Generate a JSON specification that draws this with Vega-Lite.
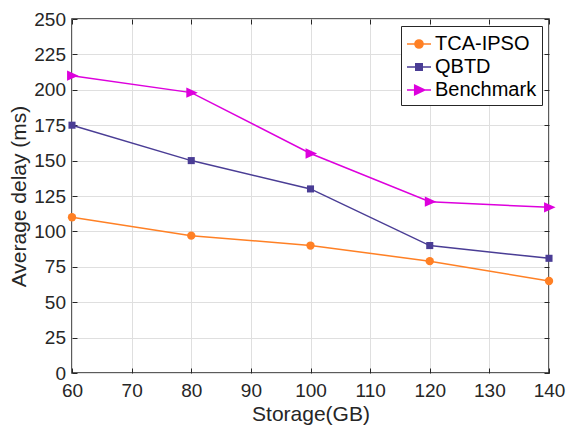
{
  "$schema": "https://vega.github.io/schema/vega-lite/v6.json",
  "width": 477,
  "height": 354,
  "autosize": "none",
  "padding": {"left": 72, "top": 19, "right": 21, "bottom": 56},
  "background": "white",
  "config": {
    "font": "Liberation Sans",
    "view": {"stroke": "#262626", "strokeWidth": 1.5},
    "axis": {
      "domain": false,
      "tickColor": "#262626",
      "tickWidth": 1,
      "tickSize": -5,
      "labelColor": "#262626",
      "labelFont": "Liberation Sans",
      "labelFontSize": 19,
      "labelFlush": false,
      "labelOverlap": false,
      "titleColor": "#262626",
      "titleFont": "Liberation Sans",
      "titleFontSize": 21,
      "titleFontWeight": "normal",
      "gridColor": "#DFDFDF",
      "gridWidth": 1
    },
    "legend": {
      "title": null,
      "orient": "top-right",
      "offset": 7,
      "padding": 5,
      "strokeColor": "#262626",
      "fillColor": "white",
      "labelFontSize": 20,
      "labelColor": "#000000",
      "labelFont": "Liberation Sans",
      "labelOffset": 3,
      "rowPadding": 0,
      "symbolSize": 576,
      "symbolStrokeWidth": 1.5
    }
  },
  "data": {
    "values": [
      {"storage": 60, "delay": 110, "series": "TCA-IPSO"},
      {"storage": 80, "delay": 97, "series": "TCA-IPSO"},
      {"storage": 100, "delay": 90, "series": "TCA-IPSO"},
      {"storage": 120, "delay": 79, "series": "TCA-IPSO"},
      {"storage": 140, "delay": 65, "series": "TCA-IPSO"},
      {"storage": 60, "delay": 175, "series": "QBTD"},
      {"storage": 80, "delay": 150, "series": "QBTD"},
      {"storage": 100, "delay": 130, "series": "QBTD"},
      {"storage": 120, "delay": 90, "series": "QBTD"},
      {"storage": 140, "delay": 81, "series": "QBTD"},
      {"storage": 60, "delay": 210, "series": "Benchmark"},
      {"storage": 80, "delay": 198, "series": "Benchmark"},
      {"storage": 100, "delay": 155, "series": "Benchmark"},
      {"storage": 120, "delay": 121, "series": "Benchmark"},
      {"storage": 140, "delay": 117, "series": "Benchmark"}
    ]
  },
  "resolve": {"axis": {"x": "independent", "y": "independent"}},
  "layer": [
    {
      "description": "Legend key: line segment with its marker for each series; no rows pass the filter, so it draws nothing in the plot.",
      "transform": [{"filter": "datum.storage < 0"}],
      "mark": {"type": "point", "filled": true, "opacity": 1, "strokeWidth": 1.5},
      "encoding": {
        "x": {"field": "storage", "type": "quantitative", "axis": null},
        "y": {"field": "delay", "type": "quantitative", "axis": null},
        "color": {
          "field": "series", "type": "nominal",
          "scale": {"domain": ["TCA-IPSO", "QBTD", "Benchmark"], "range": ["#FF8025", "#4A3D95", "#DD00DD"]}
        },
        "stroke": {
          "field": "series", "type": "nominal",
          "scale": {"domain": ["TCA-IPSO", "QBTD", "Benchmark"], "range": ["#FF8025", "#4A3D95", "#DD00DD"]}
        },
        "shape": {
          "field": "series", "type": "nominal",
          "scale": {
            "domain": ["TCA-IPSO", "QBTD", "Benchmark"],
            "range": [
              "M-1,0H1M0.34,0A0.34,0.34 0 1,1 -0.34,0A0.34,0.34 0 1,1 0.34,0Z",
              "M-1,0H1M-0.27,-0.27H0.27V0.27H-0.27Z",
              "M-1,0H1M-0.36,-0.4L0.48,0L-0.36,0.4Z"
            ]
          }
        }
      }
    },
    {
      "mark": {"type": "line", "strokeWidth": 1.5},
      "encoding": {
        "x": {
          "field": "storage", "type": "quantitative",
          "scale": {"domain": [60, 140], "nice": false, "zero": false},
          "axis": {
            "orient": "bottom",
            "title": "Storage(GB)",
            "values": [60, 70, 80, 90, 100, 110, 120, 130, 140],
            "grid": true,
            "labelPadding": 13,
            "titlePadding": 3
          }
        },
        "y": {
          "field": "delay", "type": "quantitative",
          "scale": {"domain": [0, 250], "nice": false},
          "axis": {
            "orient": "left",
            "title": "Average delay (ms)",
            "values": [0, 25, 50, 75, 100, 125, 150, 175, 200, 225, 250],
            "grid": true,
            "labelPadding": 11.5,
            "titlePadding": 4
          }
        },
        "color": {"field": "series", "type": "nominal"},
        "detail": {"field": "series"}
      }
    },
    {
      "transform": [{"filter": "datum.series === 'TCA-IPSO'"}],
      "mark": {"type": "point", "filled": true, "opacity": 1, "shape": "circle", "size": 70},
      "encoding": {
        "x": {
          "field": "storage", "type": "quantitative",
          "axis": {
            "orient": "top", "title": null, "labels": false, "grid": false,
            "values": [60, 70, 80, 90, 100, 110, 120, 130, 140]
          }
        },
        "y": {
          "field": "delay", "type": "quantitative",
          "axis": {
            "orient": "right", "title": null, "labels": false, "grid": false,
            "values": [0, 25, 50, 75, 100, 125, 150, 175, 200, 225, 250]
          }
        },
        "color": {"field": "series", "type": "nominal"}
      }
    },
    {
      "transform": [{"filter": "datum.series === 'QBTD'"}],
      "mark": {"type": "point", "filled": true, "opacity": 1, "shape": "square", "size": 50},
      "encoding": {
        "x": {"field": "storage", "type": "quantitative", "axis": null},
        "y": {"field": "delay", "type": "quantitative", "axis": null},
        "color": {"field": "series", "type": "nominal"}
      }
    },
    {
      "transform": [{"filter": "datum.series === 'Benchmark'"}],
      "mark": {"type": "point", "filled": true, "opacity": 1, "shape": "M-0.9,-0.95L1.2,0L-0.9,0.95Z", "size": 120},
      "encoding": {
        "x": {"field": "storage", "type": "quantitative", "axis": null},
        "y": {"field": "delay", "type": "quantitative", "axis": null},
        "color": {"field": "series", "type": "nominal"}
      }
    }
  ]
}
